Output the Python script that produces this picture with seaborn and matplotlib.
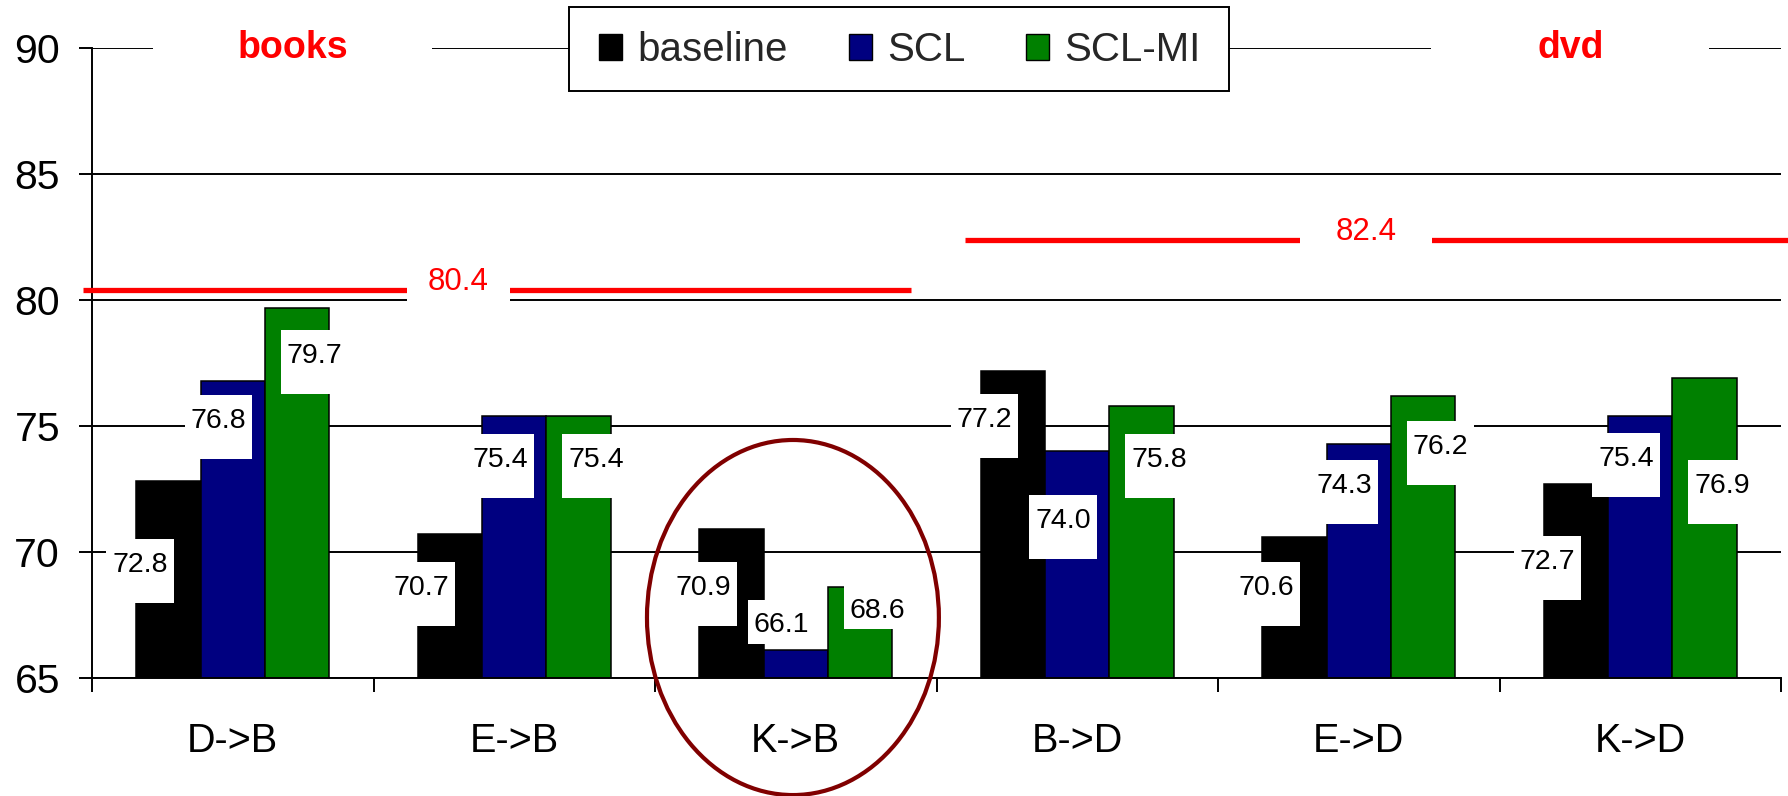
import numpy as np
import pandas as pd
import matplotlib
matplotlib.use("Agg")
import matplotlib.pyplot as plt
from matplotlib.patches import Rectangle, Ellipse, Patch
import seaborn as sns

# Domain-adaptation accuracies (source -> target)
pairs = ["D->B", "E->B", "K->B", "B->D", "E->D", "K->D"]
methods = ["baseline", "SCL", "SCL-MI"]
baseline = [72.8, 70.7, 70.9, 77.2, 70.6, 72.7]
scl = [76.8, 75.4, 66.1, 74.0, 74.3, 75.4]
scl_mi = [79.7, 75.4, 68.6, 75.8, 76.2, 76.9]

# In-domain (gold standard) accuracy for each target domain
domains = ["books", "dvd"]
in_domain = [80.4, 82.4]

colors = ["#000000", "#000080", "#008000"]

# Value-label placement (offset of label centre from bar value, y units)
dy_baseline = [-3.18, -2.01, -2.21, -1.84, -1.91, -2.98]
dy_scl = [-1.48, -1.63, 1.12, -2.65, -1.56, -1.59]
dy_mi = [-1.80, -1.63, -0.80, -2.03, -1.91, -4.16]
dx_series = [-0.33, -0.05, 0.29]
short_boxes = {("K->B", "SCL"), ("K->B", "SCL-MI")}

sns.set_style("white")
plt.rcParams["font.family"] = ["Liberation Sans", "DejaVu Sans"]

W, H = 1788, 796
fig = plt.figure(figsize=(W / 100, H / 100), dpi=100)
ax = fig.add_axes([92 / W, 1 - 678 / H, 1689 / W, 630 / H])

df = pd.DataFrame({
    "pair": np.tile(pairs, 3),
    "method": np.repeat(methods, len(pairs)),
    "acc": baseline + scl + scl_mi,
})
sns.barplot(data=df, x="pair", y="acc", hue="method", palette=colors,
            saturation=1, width=0.684, edgecolor="black", linewidth=1.1,
            errorbar=None, legend=False, ax=ax, zorder=2)

ax.set_xlim(-0.5, len(pairs) - 0.5)
ax.set_ylim(65, 90)
ax.set_xlabel("")
ax.set_ylabel("")

# axes, grid and ticks
ax.set_axisbelow(True)
ax.set_yticks([65, 70, 75, 80, 85, 90])
ax.yaxis.grid(True, color="black", linewidth=1.4)
ax.xaxis.grid(False)
for side in ["top", "right"]:
    ax.spines[side].set_visible(False)
for side in ["left", "bottom"]:
    ax.spines[side].set_color("black")
    ax.spines[side].set_linewidth(1.4)
ax.tick_params(axis="y", direction="out", length=9.5, width=1.4,
               labelsize=29.5, pad=13.5, colors="black", left=True)
ax.set_xticks(range(len(pairs)))
ax.set_xticklabels(pairs)
ax.tick_params(axis="x", which="major", length=0, labelsize=28.5, pad=32,
               colors="black")
ax.set_xticks(np.arange(-0.5, len(pairs), 1.0), minor=True)
ax.tick_params(axis="x", which="minor", direction="out", length=10,
               width=1.4, bottom=True, colors="black")

# value labels on white boxes
lab_fs = 20.5
series = [baseline, scl, scl_mi]
offsets = [dy_baseline, dy_scl, dy_mi]
for s, (vals, offs) in enumerate(zip(series, offsets)):
    for i, (v, d) in enumerate(zip(vals, offs)):
        x = i + dx_series[s]
        yc = v + d
        if (pairs[i], methods[s]) in short_boxes:
            bh, bc = 1.75, yc
        else:
            bh, bc = 2.55, yc - 0.36
        ax.add_patch(Rectangle((x - 0.12, bc - bh / 2), 0.24, bh,
                               facecolor="white", edgecolor="none", zorder=3))
        ax.annotate(f"{v:.1f}", xy=(x, yc), xytext=(0, -lab_fs * 0.716 / 2),
                    textcoords="offset points", ha="center", va="baseline",
                    fontsize=lab_fs, color="black", zorder=4)

# in-domain reference lines with their values
red_spans = [(-0.532, 2.41), (2.60, 6.02)]
gaps = [(0.619, 0.985), (3.79, 4.26)]
for val, (x0, x1), (g0, g1) in zip(in_domain, red_spans, gaps):
    ax.hlines(val, x0, x1, color="red", linewidth=3.8, zorder=3,
              clip_on=False)
    ax.add_patch(Rectangle((g0, val - 0.8), g1 - g0, 2.0, facecolor="white",
                           edgecolor="none", zorder=5, clip_on=False))
    ax.text((g0 + g1) / 2, val - 0.02, f"{val:.1f}", ha="center",
            va="baseline", fontsize=22.5, color="red", zorder=6)

# domain titles on the top line
title_boxes = [(-0.283, 0.707), (4.258, 5.246)]
for name, (b0, b1) in zip(domains, title_boxes):
    ax.add_patch(Rectangle((b0, 88.9), b1 - b0, 2.4, facecolor="white",
                           edgecolor="none", zorder=5, clip_on=False))
    ax.text((b0 + b1) / 2, 89.6, name, ha="center", va="baseline",
            fontsize=27, fontweight="bold", color="red", zorder=6,
            clip_on=False)

# highlight the K->B group
ax.add_patch(Ellipse((1.99, 67.4), 1.037, 14.09, fill=False,
                     edgecolor="#800000", linewidth=3, zorder=7,
                     clip_on=False))

# legend with a plain rectangular frame sitting on the top grid line
fig.add_artist(Rectangle((569 / W, 1 - 91 / H), 660 / W, 84 / H,
                         transform=fig.transFigure, facecolor="white",
                         edgecolor="black", linewidth=1.4, zorder=4))
handles = [Patch(facecolor=c, edgecolor="black", linewidth=1.0)
           for c in colors]
leg = fig.legend(handles, methods, loc="center",
                 bbox_to_anchor=(900 / W, 1 - 50 / H), ncol=3,
                 frameon=False, fontsize=29, handlelength=0.58,
                 handleheight=0.63, handletextpad=0.38, columnspacing=1.5,
                 borderpad=0.2)
leg.set_zorder(6)

fig.savefig("out.png", dpi=100)
